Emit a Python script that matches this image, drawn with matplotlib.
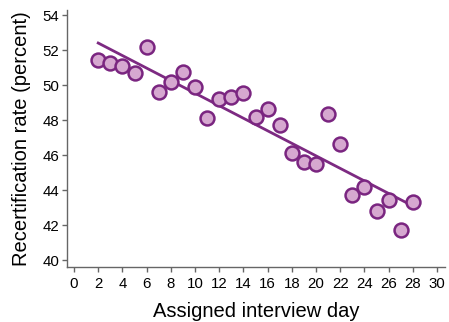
import numpy as np
import matplotlib
matplotlib.use("Agg")
import matplotlib.pyplot as plt

plt.rcParams['font.family'] = ['Liberation Sans', 'DejaVu Sans']

days = [2, 3, 4, 5, 6, 7, 8, 9, 10, 11, 12, 13, 14, 15, 16, 17, 18, 19, 20,
        21, 22, 23, 24, 25, 26, 27, 28]
rates = [51.45, 51.25, 51.1, 50.7, 52.15, 49.6, 50.15, 50.75, 49.9, 48.1, 49.2,
         49.3, 49.55, 48.2, 48.65, 47.7, 46.1, 45.6, 45.5, 48.35, 46.65, 43.7,
         44.2, 42.8, 43.45, 41.7, 43.3]
xticks = list(range(0, 31, 2))
yticks = list(range(40, 55, 2))

fig = plt.figure(figsize=(4.49, 3.22), dpi=100)
ax = fig.add_axes([0.1492, 0.1708, 0.9911 - 0.1492, 0.969 - 0.1708])

x = np.array(days, dtype=float)
y = np.array(rates)
slope, intercept = np.polyfit(x, y, 1)
xf = np.array([min(days), max(days)], dtype=float)
ax.plot(xf, slope * xf + intercept, color='#7d2a82', lw=2.0, zorder=2)

ax.plot(x, y, 'o', ms=10, mfc='#d6a8d0', mec='#7a2580', mew=1.8, zorder=3,
        linestyle='none')

ax.set_xlim(-0.58, 30.66)
ax.set_ylim(39.6, 54.29)
ax.set_xticks(xticks)
ax.set_yticks(yticks)
for s in ['top', 'right']:
    ax.spines[s].set_visible(False)
for s in ['left', 'bottom']:
    ax.spines[s].set_color('#666666')
    ax.spines[s].set_linewidth(1.0)
ax.tick_params(axis='both', colors='#666666', labelcolor='black', length=3.5,
               width=1.0, labelsize=10.8)
ax.tick_params(axis='x', pad=3.5)
ax.tick_params(axis='y', pad=2)
ax.set_xlabel('Assigned interview day', fontsize=14.5, labelpad=8)
ax.set_ylabel('Recertification rate (percent)', fontsize=14.5, labelpad=8)

fig.savefig('out.png', dpi=100)
